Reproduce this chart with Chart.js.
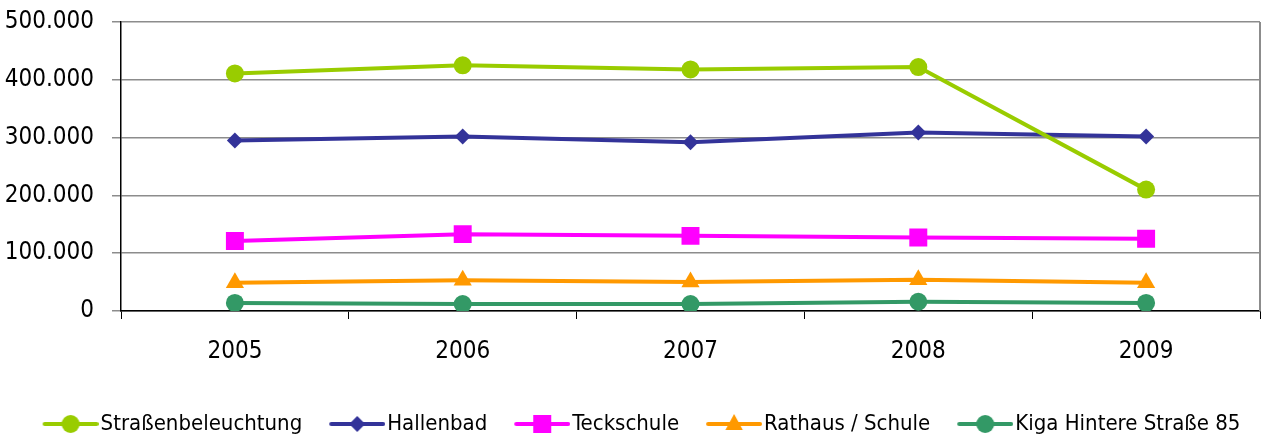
<!DOCTYPE html>
<html>
<head>
<meta charset="utf-8">
<script src="https://cdn.jsdelivr.net/npm/chart.js@4.4.1/dist/chart.umd.min.js"></script>
<style>
  html, body { margin: 0; padding: 0; background: #fff; }
  #wrap { width: 1263px; height: 439px; }
</style>
</head>
<body>
<div id="wrap"><canvas id="energyChart" width="1263" height="439"></canvas></div>
<script>
// Values
const years = ['2005', '2006', '2007', '2008', '2009'];
const strassenbeleuchtung = [411000, 425000, 418000, 422000, 210000];
const hallenbad = [295000, 302000, 292000, 309000, 302000];
const teckschule = [121000, 133000, 130000, 127000, 125000];
const rathausSchule = [49000, 53000, 50000, 54000, 49000];
const kigaHintere = [14000, 12000, 12000, 16000, 14000];
const yTicks = [0, 100000, 200000, 300000, 400000, 500000];

const FONT = "'DejaVu Sans Condensed', 'Liberation Sans Narrow', sans-serif";

// small line + marker picture for the legend
function legendIcon(color, style, r) {
    const c = document.createElement('canvas');
    c.width = 88; c.height = 24;
    const g = c.getContext('2d');
    g.strokeStyle = color; g.fillStyle = color; g.lineWidth = 4; g.lineCap = 'round';
    g.beginPath(); g.moveTo(34, 12); g.lineTo(86, 12); g.stroke();
    const cx = 60, cy = 12;
    g.beginPath();
    if (style === 'circle') g.arc(cx, cy, r, 0, Math.PI * 2);
    else if (style === 'rectRot') { g.moveTo(cx - r, cy); g.lineTo(cx, cy - r); g.lineTo(cx + r, cy); g.lineTo(cx, cy + r); g.closePath(); }
    else if (style === 'rect') g.rect(cx - r, cy - r, 2 * r, 2 * r);
    else if (style === 'triangle') { g.moveTo(cx, cy - r); g.lineTo(cx + r * 0.87, cy + r * 0.5 + 1); g.lineTo(cx - r * 0.87, cy + r * 0.5 + 1); g.closePath(); }
    g.fill();
    return c;
}

function series(label, data, color, style, radius) {
    return {
        label: label,
        data: data,
        borderColor: color,
        backgroundColor: color,
        borderWidth: 4,
        pointStyle: style,
        pointRadius: radius,
        pointHoverRadius: radius,
        pointBorderWidth: 0,
        tension: 0,
        icon: legendIcon(color, style, style === 'rect' ? 9 : (style === 'triangle' ? 10 : (style === 'rectRot' ? 8 : 9)))
    };
}

function noPadding(scale) {
    scale.paddingLeft = 0; scale.paddingRight = 0;
    scale.paddingTop = 0; scale.paddingBottom = 0;
}

const rightBorder = {
    id: 'rightBorder',
    afterDraw(chart) {
        const a = chart.chartArea, c = chart.ctx;
        c.save();
        c.strokeStyle = '#8c8c8c'; c.lineWidth = 2;
        c.beginPath(); c.moveTo(a.right, a.top); c.lineTo(a.right, a.bottom); c.stroke();
        c.restore();
    }
};

const ctx = document.getElementById('energyChart').getContext('2d');

new Chart(ctx, {
    type: 'line',
    data: {
        labels: years,
        datasets: [
            series('Straßenbeleuchtung', strassenbeleuchtung, '#99cc00', 'circle', 9),
            series('Hallenbad', hallenbad, '#333399', 'rectRot', 8),
            series('Teckschule', teckschule, '#ff00ff', 'rect', 12.7),
            series('Rathaus / Schule', rathausSchule, '#ff9900', 'triangle', 10.5),
            series('Kiga Hintere Straße 85', kigaHintere, '#339966', 'circle', 9)
        ]
    },
    options: {
        responsive: false,
        animation: false,
        layout: { autoPadding: false, padding: { top: 22, right: 3, left: 0, bottom: -6 } },
        plugins: {
            tooltip: { enabled: false },
            legend: {
                position: 'bottom',
                labels: {
                    usePointStyle: true,
                    pointStyleWidth: 70,
                    padding: 4,
                    color: '#000',
                    font: { family: FONT, size: 22 },
                    generateLabels(chart) {
                        const items = Chart.defaults.plugins.legend.labels.generateLabels(chart);
                        items.forEach(it => { it.pointStyle = chart.data.datasets[it.datasetIndex].icon; });
                        return items;
                    }
                }
            }
        },
        scales: {
            x: {
                offset: true,
                afterFit(scale) { scale.height = 98; noPadding(scale); },
                grid: { offset: true, drawOnChartArea: false, tickLength: 8, color: '#000' },
                border: { color: '#000', width: 1.5 },
                ticks: { color: '#000', padding: 18, font: { family: FONT, size: 24 } }
            },
            y: {
                min: 0,
                max: 500000,
                afterFit(scale) { scale.width = 121; noPadding(scale); },
                afterBuildTicks(scale) { scale.ticks = yTicks.map(v => ({ value: v })); },
                grid: { color: '#8c8c8c', lineWidth: 1.5, tickLength: 9 },
                border: { color: '#000', width: 1.5 },
                ticks: {
                    color: '#000',
                    padding: 18,
                    font: { family: FONT, size: 24 },
                    callback: v => v.toLocaleString('de-DE')
                }
            }
        }
    },
    plugins: [rightBorder]
});
</script>
</body>
</html>
